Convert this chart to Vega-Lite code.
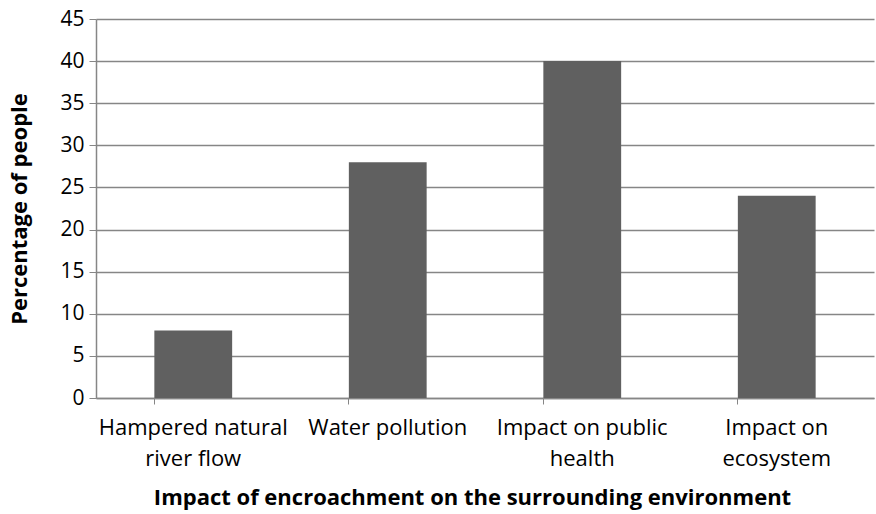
{
  "$schema": "https://vega.github.io/schema/vega-lite/v6.json",
  "width": 778,
  "height": 379,
  "autosize": "none",
  "padding": {"left": 96, "top": 19, "right": 2, "bottom": 116},
  "background": "white",
  "config": {
    "view": {"stroke": null},
    "font": "Open Sans"
  },
  "data": {
    "values": [
      {"impact": "Hampered natural river flow", "pct": 8},
      {"impact": "Water pollution", "pct": 28},
      {"impact": "Impact on public health", "pct": 40},
      {"impact": "Impact on ecosystem", "pct": 24}
    ]
  },
  "mark": {"type": "bar", "color": "#606060"},
  "encoding": {
    "x": {
      "field": "impact",
      "type": "nominal",
      "sort": null,
      "scale": {"paddingInner": 0.6, "paddingOuter": 0.3},
      "axis": {
        "title": "Impact of encroachment on the surrounding environment",
        "titleFont": "Open Sans",
        "titleFontSize": 22,
        "titleFontWeight": "bold",
        "titleColor": "#000000",
        "titlePadding": 18,
        "titleX": 376,
        "labelAngle": 0,
        "labelFont": "Open Sans",
        "labelFontSize": 22,
        "labelLimit": 400,
        "labelColor": "#000000",
        "labelPadding": 13,
        "labelLineHeight": 31,
        "labelExpr": "datum.value == 'Hampered natural river flow' ? ['Hampered natural', 'river flow'] : datum.value == 'Impact on public health' ? ['Impact on public', 'health'] : datum.value == 'Impact on ecosystem' ? ['Impact on', 'ecosystem'] : datum.value",
        "bandPosition": 0,
        "tickColor": "#868686",
        "tickSize": 6,
        "domainColor": "#868686",
        "domainWidth": 1.5
      }
    },
    "y": {
      "field": "pct",
      "type": "quantitative",
      "scale": {"domain": [0, 45]},
      "axis": {
        "title": "Percentage of people",
        "titleFont": "Open Sans",
        "titleFontSize": 22,
        "titleFontWeight": "bold",
        "titleColor": "#000000",
        "titlePadding": 28,
        "values": [0, 5, 10, 15, 20, 25, 30, 35, 40, 45],
        "labelFont": "Open Sans",
        "labelFontSize": 21,
        "labelColor": "#000000",
        "labelPadding": 5,
        "grid": true,
        "gridColor": "#868686",
        "gridWidth": 1.5,
        "tickColor": "#868686",
        "tickSize": 7,
        "domainColor": "#868686",
        "domainWidth": 1.5
      }
    }
  }
}
